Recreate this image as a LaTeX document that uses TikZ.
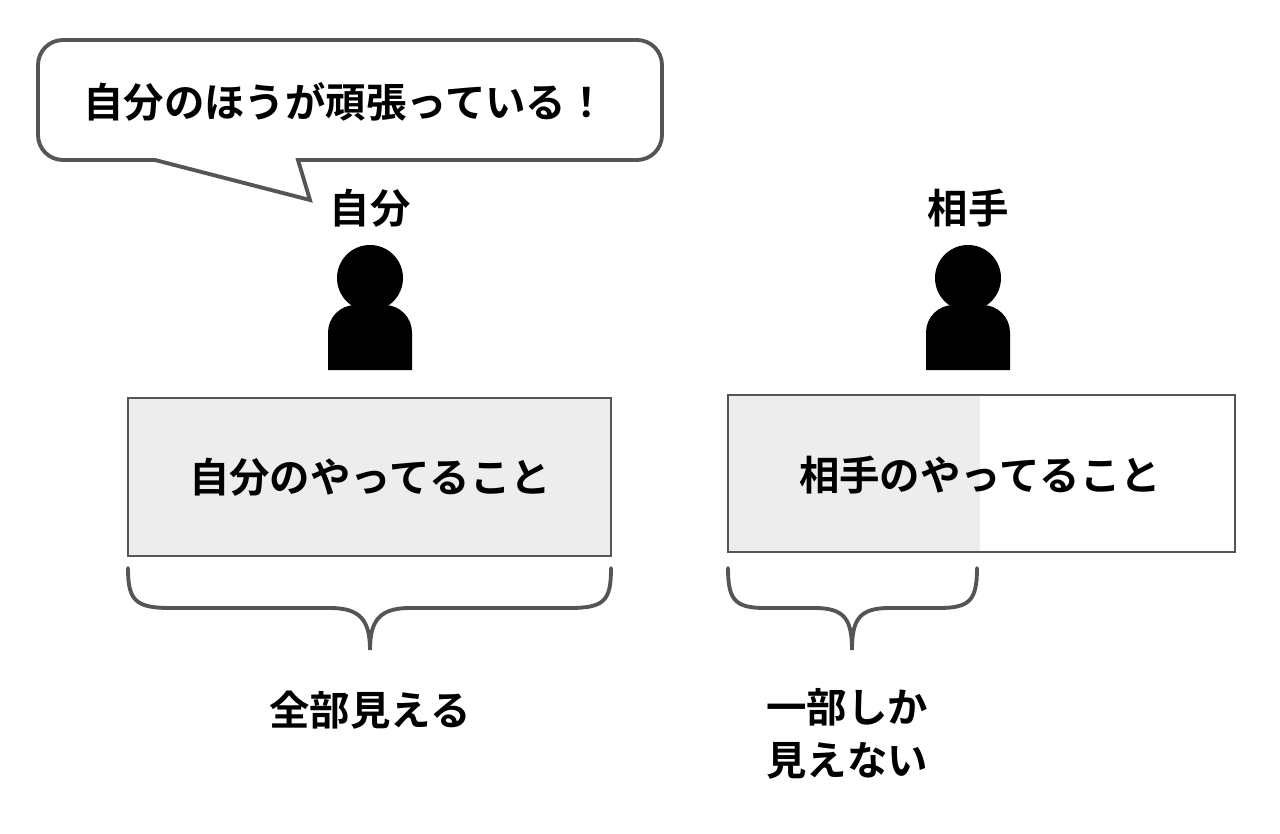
\documentclass[tikz,border=0pt]{standalone}
\usepackage{fontspec}
\setmainfont{Noto Sans CJK JP}[BoldFont={* Bold}]
\usetikzlibrary{positioning}
\definecolor{boxgray}{HTML}{EDEDED}
\definecolor{linegray}{HTML}{555555}
\tikzset{
  jtext/.style={font=\bfseries\fontsize{23}{30}\selectfont},
  frame/.style={draw=linegray,line width=1pt},
  bracepath/.style={draw=linegray,line width=2.2pt,line cap=round},
}
\newcommand{\personicon}[1]{%
  \fill (#1,278) circle (0.66cm);
  \fill (#1-42,370) [rounded corners=0.55cm]-- (#1-42,305) -- (#1+42,305) [sharp corners]-- (#1+42,370) -- cycle;}
\begin{document}
\begin{tikzpicture}[x=0.2mm,y=-0.2mm]
\useasboundingbox (0,0) rectangle (1280,834);
% speech bubble
\draw[linegray,line width=2.2pt,fill=white,rounded corners=0.5cm]
  (38,160) -- (38,40) -- (662,40) -- (662,160) [sharp corners]-- (298,160) -- (310,200) -- (155,160) [rounded corners=0.5cm]-- cycle;
\node[jtext] (claim) at (345,102) {自分のほうが頑張っている！};
% persons
\node[jtext] (me) at (370,208) {自分};
\node[jtext] (other) at (968,208) {相手};
\personicon{370}
\personicon{968}
% boxes
\fill[boxgray] (128,398) rectangle (611,556);
\draw[frame] (128,398) rectangle (611,556);
\node[jtext] (mine) at (370,477) {自分のやってること};
\fill[boxgray] (728,395) rectangle (980,552);
\draw[frame] (728,395) rectangle (1235,552);
\node[jtext] (theirs) at (980,475) {相手のやってること};
% braces
\draw[bracepath] (128,568) .. controls (128,600) and (135,608) .. (170,608) -- (330,608)
  .. controls (360,608) and (370,620) .. (370,650) .. controls (370,620) and (380,608) .. (410,608)
  -- (570,608) .. controls (605,608) and (611,600) .. (611,568);
\draw[bracepath] (728,568) .. controls (728,600) and (735,608) .. (765,608) -- (815,608)
  .. controls (845,608) and (852,620) .. (852,650) .. controls (852,620) and (859,608) .. (889,608)
  -- (939,608) .. controls (970,608) and (977,600) .. (977,568);
\node[jtext] (all) at (370,710) {全部見える};
\node[jtext,align=left,anchor=north west,inner sep=0pt] (part) at (766,688) {一部しか\\見えない};
\end{tikzpicture}
\end{document}
